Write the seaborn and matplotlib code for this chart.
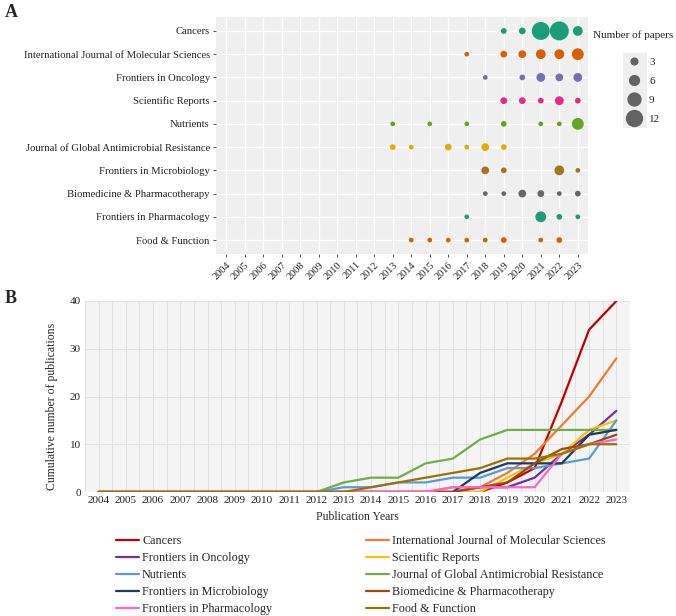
import numpy as np
import pandas as pd
import matplotlib
matplotlib.use("Agg")
import matplotlib.pyplot as plt
from matplotlib.patches import Rectangle
from matplotlib.lines import Line2D
import seaborn as sns

sns.set_theme(style="white")
plt.rcParams["font.family"] = ["Liberation Serif", "DejaVu Serif"]

years = list(range(2004, 2024))
journals = [
    "Cancers",
    "International Journal of Molecular Sciences",
    "Frontiers in Oncology",
    "Scientific Reports",
    "Nutrients",
    "Journal of Global Antimicrobial Resistance",
    "Frontiers in Microbiology",
    "Biomedicine & Pharmacotherapy",
    "Frontiers in Pharmacology",
    "Food & Function",
]

# papers per year (years not listed = 0)
n_cancers = {2019: 2, 2020: 3, 2021: 14, 2022: 15, 2023: 6}
n_ijms = {2017: 1, 2019: 3, 2020: 4, 2021: 6, 2022: 6, 2023: 8}
n_oncology = {2018: 1, 2020: 2, 2021: 5, 2022: 4, 2023: 5}
n_scirep = {2019: 3, 2020: 3, 2021: 2, 2022: 5, 2023: 2}
n_nutrients = {2013: 1, 2015: 1, 2017: 1, 2019: 2, 2021: 1, 2022: 1, 2023: 8}
n_jgar = {2013: 2, 2014: 1, 2016: 3, 2017: 1, 2018: 4, 2019: 2}
n_microbio = {2018: 4, 2019: 2, 2022: 6, 2023: 1}
n_biomed = {2018: 1, 2019: 1, 2020: 4, 2021: 3, 2022: 1, 2023: 2}
n_pharmacol = {2017: 1, 2021: 7, 2022: 2, 2023: 1}
n_food = {2014: 1, 2015: 1, 2016: 1, 2017: 1, 2018: 1, 2019: 2, 2021: 1, 2022: 2}

counts = [n_cancers, n_ijms, n_oncology, n_scirep, n_nutrients,
          n_jgar, n_microbio, n_biomed, n_pharmacol, n_food]

colors_a = ["#1B9E77", "#D95F02", "#7570B3", "#E7298A", "#66A61E",
            "#E6AB02", "#A6761D", "#666666", "#1B9E77", "#D95F02"]
colors_b = ["#C00000", "#ED7D31", "#7030A0", "#FFC000", "#5B9BD5",
            "#70AD47", "#203864", "#9E480E", "#FF66CC", "#997300"]

legend_sizes = [3, 6, 9, 12]

# bubble diameter grows roughly linearly with count
size_map = {v: ((3.7 + 1.02 * v) * 0.72) ** 2 for v in range(1, 16)}

rows_a = []
rows_b = []
for j, c in zip(journals, counts):
    for y, n in c.items():
        rows_a.append((j, y, n))
    cum = np.cumsum([c.get(y, 0) for y in years])
    for y, v in zip(years, cum):
        rows_b.append((j, y, v))
df_a = pd.DataFrame(rows_a, columns=["journal", "year", "n"])
df_b = pd.DataFrame(rows_b, columns=["journal", "year", "cum"])

fig = plt.figure(figsize=(6.76, 6.16), dpi=100)
W, H = 676, 616

def box(l, t, r, b):
    return [l / W, 1 - b / H, (r - l) / W, (b - t) / H]

# ---- panel A
ax_a = fig.add_axes(box(216, 17, 588, 254))
ax_a.set_facecolor("#EFEFEF")
ax_a.yaxis.update_units(journals)
sns.scatterplot(data=df_a, x="year", y="journal", hue="journal", hue_order=journals,
                palette=dict(zip(journals, colors_a)), size="n", sizes=size_map,
                linewidth=0, alpha=1, legend=False, ax=ax_a, zorder=3)
ax_a.set_xlim(2003.45, 2023.55)
ax_a.set_ylim(9.6, -0.6)
ax_a.set_xticks(years)
ax_a.set_xticklabels([str(y) for y in years], rotation=45, ha="right",
                     rotation_mode="anchor", fontsize=7.5)
ax_a.set_yticks(range(len(journals)))
ax_a.set_yticklabels(journals, fontsize=7.7)
ax_a.grid(True, color="white", linewidth=0.9)
ax_a.set_axisbelow(True)
for s in ax_a.spines.values():
    s.set_visible(False)
ax_a.tick_params(axis="both", length=2.5, width=0.6, color="#333333", pad=2,
                 bottom=True, left=True, labelcolor="#222222")
ax_a.set_xlabel("")
ax_a.set_ylabel("")

fig.text(593 / W, 1 - 35 / H, "Number of papers", fontsize=8, va="center",
         color="#222222")
fig.patches.append(Rectangle((623 / W, 1 - 128 / H), 24 / W, 75 / H,
                             transform=fig.transFigure, facecolor="#EFEFEF",
                             edgecolor="none", zorder=0))
handles = [Line2D([], [], linestyle="none", marker="o", color="#636363",
                  markersize=np.sqrt(size_map[v])) for v in legend_sizes]
fig.legend(handles, [str(v) for v in legend_sizes], loc="upper left",
           bbox_to_anchor=(618 / W, 1 - 49 / H), frameon=False,
           fontsize=8, labelspacing=0.85, handletextpad=0.7, borderpad=0.2,
           handlelength=1.4)

# ---- panel B
ax_b = fig.add_axes(box(85, 301, 630, 492))
ax_b.set_facecolor("#F4F4F4")
sns.lineplot(data=df_b, x="year", y="cum", hue="journal", hue_order=journals,
             palette=dict(zip(journals, colors_b)), linewidth=1.6, ax=ax_b)
ax_b.set_xlim(2003.5, 2023.5)
ax_b.set_ylim(0, 40)
ax_b.set_xticks(years)
ax_b.set_xticks(np.arange(2003.5, 2024, 1.0), minor=True)
ax_b.set_yticks([0, 10, 20, 30, 40])
ax_b.tick_params(axis="both", length=0, labelsize=8, pad=3, labelcolor="#222222")
ax_b.tick_params(axis="both", which="minor", length=0)
ax_b.grid(True, which="both", color="#DDDDDD", linewidth=0.6)
ax_b.set_axisbelow(True)
for s in ax_b.spines.values():
    s.set_visible(False)
ax_b.set_xlabel("Publication Years", fontsize=8.5, labelpad=4)
ax_b.set_ylabel("Cumulative number of publications", fontsize=8.5)
ax_b.yaxis.set_label_coords(-0.05, 0.45)

h, l = ax_b.get_legend_handles_labels()
order = [0, 2, 4, 6, 8, 1, 3, 5, 7, 9]
ax_b.legend([h[i] for i in order], [l[i] for i in order], ncol=2,
            loc="upper left", bbox_to_anchor=(110 / W, 1 - 529 / H),
            bbox_transform=fig.transFigure, frameon=False, fontsize=8.7,
            handlelength=1.9, handletextpad=0.25, labelspacing=0.42,
            columnspacing=7.75, borderpad=0)

fig.text(5 / W, 1 - 4 / H, "A", fontsize=13, fontweight="bold", va="top")
fig.text(5 / W, 1 - 290 / H, "B", fontsize=13, fontweight="bold", va="top")

fig.savefig("out.png", dpi=100)
